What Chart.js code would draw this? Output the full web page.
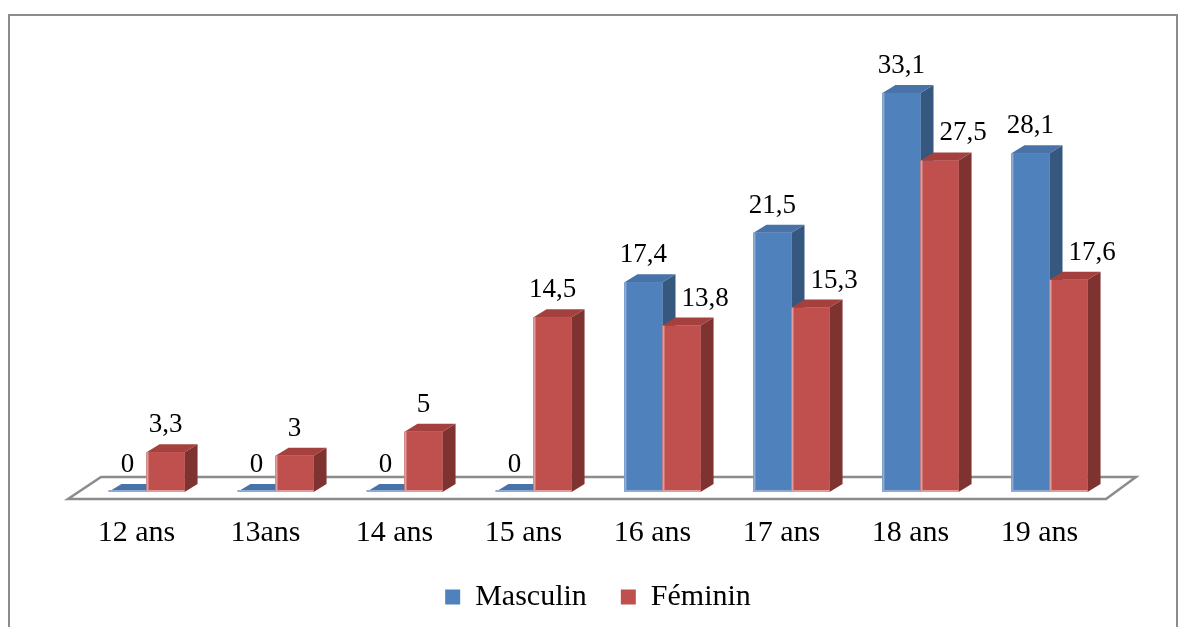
<!DOCTYPE html>
<html>
<head>
<meta charset="utf-8">
<script src="https://cdn.jsdelivr.net/npm/chart.js@4"></script>
<style>
  html, body { margin: 0; padding: 0; background: #fff; }
  #wrap { width: 1186px; height: 627px; position: relative; }
</style>
</head>
<body>
<div id="wrap"><canvas id="chartAge" width="1186" height="627"></canvas></div>
<script>
/* Répartition par âge et par sexe — barres 3D façon Excel */
const CATEGORIES = ["12 ans", "13ans", "14 ans", "15 ans", "16 ans", "17 ans", "18 ans", "19 ans"];
const MASCULIN   = [0, 0, 0, 0, 17.4, 21.5, 33.1, 28.1];
const FEMININ    = [3.3, 3, 5, 14.5, 13.8, 15.3, 27.5, 17.6];
const SERIES     = ["Masculin", "Féminin"];

(function () {
  "use strict";

  const SERIF = "'Liberation Serif', 'Times New Roman', serif";
  const DX = 13, DY = -8;   // profondeur 3D
  const FACES = [
    { front: "#4F81BD", top: "#4873A8", side: "#36587F", edge: "#8FAAD3" },
    { front: "#C0504D", top: "#A4403D", side: "#7F3331", edge: "#DF9C9A" }
  ];

  const fmt = v => String(v).replace(".", ",");

  // cadre du graphique + fond blanc
  const framePlugin = {
    id: "frame",
    beforeDraw(chart) {
      const ctx = chart.ctx;
      ctx.save();
      ctx.fillStyle = "#fff";
      ctx.fillRect(0, 0, chart.width, chart.height);
      ctx.strokeStyle = "#8C8C8C";
      ctx.lineWidth = 2;
      ctx.strokeRect(9, 15, chart.width - 18, chart.height + 10);
      ctx.restore();
    }
  };

  // plancher en perspective
  const floorPlugin = {
    id: "floor",
    beforeDatasetsDraw(chart) {
      const { ctx, chartArea: a } = chart;
      const b = chart.scales.y.getPixelForValue(0);
      ctx.save();
      ctx.beginPath();
      ctx.moveTo(a.left - 14, b + 7);
      ctx.lineTo(a.right - 8, b + 7);
      ctx.lineTo(a.right + 22, b - 15);
      ctx.lineTo(a.left + 19, b - 15);
      ctx.closePath();
      ctx.fillStyle = "#fff";
      ctx.fill();
      ctx.strokeStyle = "#8C8C8C";
      ctx.lineWidth = 2.5;
      ctx.stroke();
      ctx.restore();
    }
  };

  function poly(ctx, pts, color) {
    ctx.beginPath();
    ctx.moveTo(pts[0][0], pts[0][1]);
    for (let i = 1; i < pts.length; i++) ctx.lineTo(pts[i][0], pts[i][1]);
    ctx.closePath();
    ctx.fillStyle = color;
    ctx.fill();
  }

  // faces 3D + étiquettes de valeurs
  const boxPlugin = {
    id: "box3d",
    afterDatasetsDraw(chart) {
      const ctx = chart.ctx;
      const metas = [chart.getDatasetMeta(0), chart.getDatasetMeta(1)];
      ctx.save();
      CATEGORIES.forEach((_, i) => {
        metas.forEach((meta, d) => {
          const el = meta.data[i];
          const f = FACES[d];
          const l = el.x - el.width / 2, r = el.x + el.width / 2;
          const t = el.y, b = el.base;
          poly(ctx, [[r, t], [r + DX, t + DY], [r + DX, b + DY], [r, b]], f.side);
          poly(ctx, [[l, t], [r, t], [r + DX, t + DY], [l + DX, t + DY]], f.top);
          ctx.fillStyle = f.front;
          ctx.fillRect(l, t, r - l, b - t);
          ctx.fillStyle = f.edge;
          ctx.fillRect(l, t, 2, b - t);
          ctx.fillRect(l, b - 2, r - l, 2);
        });
      });

      ctx.font = "27px " + SERIF;
      ctx.fillStyle = "#000";
      ctx.textAlign = "center";
      ctx.textBaseline = "alphabetic";
      const data = [MASCULIN, FEMININ];
      CATEGORIES.forEach((_, i) => {
        metas.forEach((meta, d) => {
          const el = meta.data[i];
          const txt = fmt(data[d][i]);
          let x = el.x;
          if (d === 1 && MASCULIN[i] > FEMININ[i]) {
            const blue = metas[0].data[i];
            const w = ctx.measureText(txt).width;
            x = Math.max(x, blue.x + blue.width / 2 + DX + 6 + w / 2);
          }
          ctx.fillText(txt, x, el.y - 20);
        });
      });
      ctx.restore();
    }
  };

  new Chart(document.getElementById("chartAge"), {
    type: "bar",
    data: {
      labels: CATEGORIES,
      datasets: [
        { label: SERIES[0], data: MASCULIN, backgroundColor: FACES[0].front },
        { label: SERIES[1], data: FEMININ,  backgroundColor: FACES[1].front }
      ]
    },
    options: {
      responsive: false,
      animation: false,
      events: [],
      layout: { padding: { top: 70, left: 82, right: 72, bottom: 5 } },
      datasets: { bar: { categoryPercentage: 0.59, barPercentage: 1.0 } },
      scales: {
        x: {
          grid: { display: false },
          border: { display: false },
          ticks: { color: "#000", font: { family: SERIF, size: 30 }, padding: 15, labelOffset: -10 },
          afterFit: s => { s.height = 56; }
        },
        y: { display: false, min: 0, max: 35 }
      },
      plugins: {
        legend: {
          position: "bottom",
          labels: {
            color: "#000",
            font: { family: SERIF, size: 30 },
            boxWidth: 15, boxHeight: 15,
            padding: 34
          }
        },
        tooltip: { enabled: false }
      }
    },
    plugins: [framePlugin, floorPlugin, boxPlugin]
  });
})();
</script>
</body>
</html>
